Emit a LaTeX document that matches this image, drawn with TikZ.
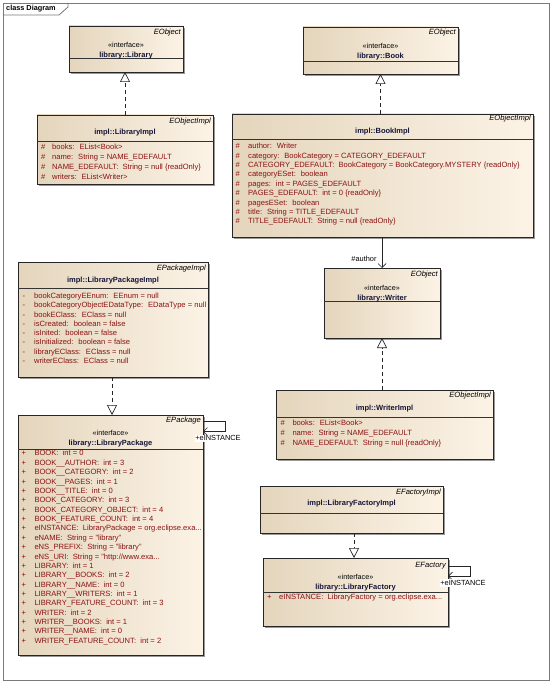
\documentclass[tikz,border=0pt]{standalone}
\usepackage{fontspec}
\setmainfont{Liberation Sans}
\usetikzlibrary{arrows.meta,shadows,calc}
\definecolor{clsL}{HTML}{E4D5BC}
\definecolor{clsR}{HTML}{FCF3E6}
\definecolor{attrc}{HTML}{8A1212}
\definecolor{ttlc}{HTML}{141438}
\definecolor{framec}{HTML}{7A7A7A}
\newcommand{\tdots}{...}
\tikzset{
 cls/.style={draw=black!85, line width=0.7pt, left color=clsL, right color=clsR, anchor=north west, inner sep=0pt, outer sep=0pt,
   drop shadow={shadow xshift=2pt, shadow yshift=-2pt, fill=black!40, opacity=1}},
 sepline/.style={draw=black!80, line width=0.7pt},
 stereo/.style={font=\fontsize{7.6}{8}\selectfont\itshape, anchor=east, inner sep=0pt, text height=5.4pt, text depth=1.5pt},
 iface/.style={font=\fontsize{7.2}{8}\selectfont, inner sep=0pt, text height=5.2pt, text depth=1.5pt},
 ttl/.style={font=\fontsize{7.5}{8}\selectfont\bfseries, text=ttlc, inner sep=0pt, text height=5.4pt, text depth=1.5pt},
 attrtxt/.style={font=\fontsize{7.6}{8}\selectfont, text=attrc, anchor=west, inner sep=0pt, text height=5.4pt, text depth=1.5pt},
 realize/.style={draw=black!85, line width=0.7pt, dash pattern=on 4pt off 3pt, -{Triangle[open,length=10pt,width=10pt,fill=white]}},
 assoc/.style={draw=black!85, line width=0.7pt, -{Straight Barb[length=4pt,width=8pt]}},
 lbl/.style={font=\fontsize{7.4}{8}\selectfont, inner sep=0.6pt, text height=5.2pt, text depth=1.2pt},
}
\newcommand{\attrs}[7]{%
  \foreach \atxt [count=\ai] in {#7} {%
    \node[attrtxt] (#1m\ai) at (#3,{#5+#6*(\ai-1)}) {#2};
    \node[attrtxt] (#1a\ai) at (#4,{#5+#6*(\ai-1)}) {\atxt};
  }%
}
\begin{document}
\begin{tikzpicture}[x=1pt,y=-1pt]
\useasboundingbox (0,0) rectangle (553,684);
% frame
\draw[framec!60, line width=1.6pt] (549.5,4) -- (549.5,680.5) -- (4,680.5);
\draw[framec, line width=0.8pt] (3,3) rectangle (549,680);
\draw[framec, line width=0.8pt] (3,15) -- (59,15) -- (68,7) -- (68,3);
\node[font=\fontsize{7.3}{8}\selectfont\bfseries, anchor=west, inner sep=0pt] (frametitle) at (6,9) {class Diagram};

% ---------- library::Library
\node[cls, minimum width=114pt, minimum height=46pt] (lib) at (69,26) {};
\draw[sepline] (69,58) -- (183,58);
\node[stereo] (libs) at (181,32.5) {EObject};
\node[iface] (libi) at (126,45.5) {«interface»};
\node[ttl] (libt) at (126,55.5) {library::Library};

% ---------- impl::LibraryImpl
\node[cls, minimum width=176pt, minimum height=69pt] (libimpl) at (37,115) {};
\draw[sepline] (37,141) -- (213,141);
\node[stereo] (libimpls) at (211,122) {EObjectImpl};
\node[ttl] (libimplt) at (125,132.5) {impl::LibraryImpl};
\attrs{li}{\#}{41}{52}{147.7}{9.8}{books:~ EList<Book>, name:~ String = NAME\_EDEFAULT, NAME\_EDEFAULT:~ String = null \{readOnly\}, writers:~ EList<Writer>}

% ---------- library::Book
\node[cls, minimum width=155pt, minimum height=47pt] (book) at (303,27) {};
\draw[sepline] (303,61) -- (458,61);
\node[stereo] (books) at (456,33) {EObject};
\node[iface] (booki) at (380.5,47) {«interface»};
\node[ttl] (bookt) at (380.5,57) {library::Book};

% ---------- impl::BookImpl
\node[cls, minimum width=301pt, minimum height=123pt] (bookimpl) at (232,114) {};
\draw[sepline] (232,139.5) -- (533,139.5);
\node[stereo] (bookimpls) at (531,119) {EObjectImpl};
\node[ttl] (bookimplt) at (382.5,131.7) {impl::BookImpl};
\attrs{bi}{\#}{235.5}{248}{146.7}{9.4}{author:~ Writer, category:~ BookCategory = CATEGORY\_EDEFAULT, CATEGORY\_EDEFAULT:~ BookCategory = BookCategory.MYSTERY \{readOnly\}, categoryESet:~ boolean, pages:~ int = PAGES\_EDEFAULT, PAGES\_EDEFAULT:~ int = 0 \{readOnly\}, pagesESet:~ boolean, title:~ String = TITLE\_EDEFAULT, TITLE\_EDEFAULT:~ String = null \{readOnly\}}

% ---------- library::Writer
\node[cls, minimum width=116pt, minimum height=70pt] (writer) at (324,268) {};
\draw[sepline] (324,301) -- (440,301);
\node[stereo] (writers) at (438,274.5) {EObject};
\node[iface] (writeri) at (382,289) {«interface»};
\node[ttl] (writert) at (382,298.3) {library::Writer};

% ---------- impl::WriterImpl
\node[cls, minimum width=217pt, minimum height=69pt] (writerimpl) at (276,390) {};
\draw[sepline] (276,417) -- (493,417);
\node[stereo] (writerimpls) at (491,396) {EObjectImpl};
\node[ttl] (writerimplt) at (384.5,408.3) {impl::WriterImpl};
\attrs{wi}{\#}{280.5}{292.3}{424}{9.6}{books:~ EList<Book>, name:~ String = NAME\_EDEFAULT, NAME\_EDEFAULT:~ String = null \{readOnly\}}

% ---------- impl::LibraryPackageImpl
\node[cls, minimum width=190pt, minimum height=115pt] (pkgimpl) at (18,262) {};
\draw[sepline] (18,288) -- (208,288);
\node[stereo] (pkgimpls) at (206,268.3) {EPackageImpl};
\node[ttl] (pkgimplt) at (113,280.7) {impl::LibraryPackageImpl};
\attrs{pi}{-}{22.5}{34}{296.7}{9.23}{bookCategoryEEnum:~ EEnum = null, bookCategoryObjectEDataType:~ EDataType = null, bookEClass:~ EClass = null, isCreated:~ boolean = false, isInited:~ boolean = false, isInitialized:~ boolean = false, libraryEClass:~ EClass = null, writerEClass:~ EClass = null}

% ---------- library::LibraryPackage
\node[cls, minimum width=185pt, minimum height=240pt] (pkg) at (18,415) {};
\draw[sepline] (18,449) -- (203,449);
\node[stereo] (pkgs) at (201,421) {EPackage};
\node[iface] (pkgi) at (110.5,434) {«interface»};
\node[ttl] (pkgt) at (110.5,443.5) {library::LibraryPackage};
\attrs{pk}{+}{21.5}{34.3}{454}{9.37}{BOOK:~ int = 0, BOOK\_\_AUTHOR:~ int = 3, BOOK\_\_CATEGORY:~ int = 2, BOOK\_\_PAGES:~ int = 1, BOOK\_\_TITLE:~ int = 0, BOOK\_CATEGORY:~ int = 3, BOOK\_CATEGORY\_OBJECT:~ int = 4, BOOK\_FEATURE\_COUNT:~ int = 4, eINSTANCE:~ LibraryPackage = org.eclipse.exa\tdots, eNAME:~ String = "library", eNS\_PREFIX:~ String = "library", eNS\_URI:~ String = "http://www.exa\tdots, LIBRARY:~ int = 1, LIBRARY\_\_BOOKS:~ int = 2, LIBRARY\_\_NAME:~ int = 0, LIBRARY\_\_WRITERS:~ int = 1, LIBRARY\_FEATURE\_COUNT:~ int = 3, WRITER:~ int = 2, WRITER\_\_BOOKS:~ int = 1, WRITER\_\_NAME:~ int = 0, WRITER\_FEATURE\_COUNT:~ int = 2}

% ---------- impl::LibraryFactoryImpl
\node[cls, minimum width=183pt, minimum height=47pt] (factimpl) at (260,486) {};
\draw[sepline] (260,513) -- (443,513);
\node[stereo] (factimpls) at (441,493) {EFactoryImpl};
\node[ttl] (factimplt) at (351.5,504) {impl::LibraryFactoryImpl};

% ---------- library::LibraryFactory
\node[cls, minimum width=185pt, minimum height=68pt] (fact) at (263,558) {};
\draw[sepline] (263,592) -- (448,592);
\node[stereo] (facts) at (446,566) {EFactory};
\node[iface] (facti) at (355.5,578) {«interface»};
\node[ttl] (factt) at (355.5,588) {library::LibraryFactory};
\attrs{fa}{+}{267}{279}{597.5}{9.4}{eINSTANCE:~ LibraryFactory = org.eclipse.exa\tdots}

% ---------- connectors
\draw[realize] (libimpl.north) -- (libimpl.north |- lib.south);
\draw[realize] (book.south |- bookimpl.north) -- (book.south);
\draw[assoc] ($(bookimpl.south)+(-0.5,0)$) -- ($(writer.north)+(0,0)$);
\node[lbl] (authl) at (364,259.3) {\#author};
\draw[realize] (writer.south |- writerimpl.north) -- (writer.south);
\draw[realize] ($(pkgimpl.south)+(-1,0)$) -- ($(pkg.north)+(1.5,0)$);
\draw[realize] ($(factimpl.south)+(2.5,0)$) -- ($(fact.north)+(-1.5,0)$);
% self associations
\draw[assoc] ($(pkg.north east)+(0,6)$) -- ++(22,0) -- ++(0,10.5) -- ($(pkg.north east)+(0,16.5)$);
\node[lbl, fill=white] (pkgl) at (218,438.3) {+eINSTANCE};
\draw[assoc] ($(fact.north east)+(0,8)$) -- ++(22,0) -- ++(0,10) -- ($(fact.north east)+(0,18)$);
\node[lbl, fill=white] (factl) at (463,583) {+eINSTANCE};
\end{tikzpicture}
\end{document}
